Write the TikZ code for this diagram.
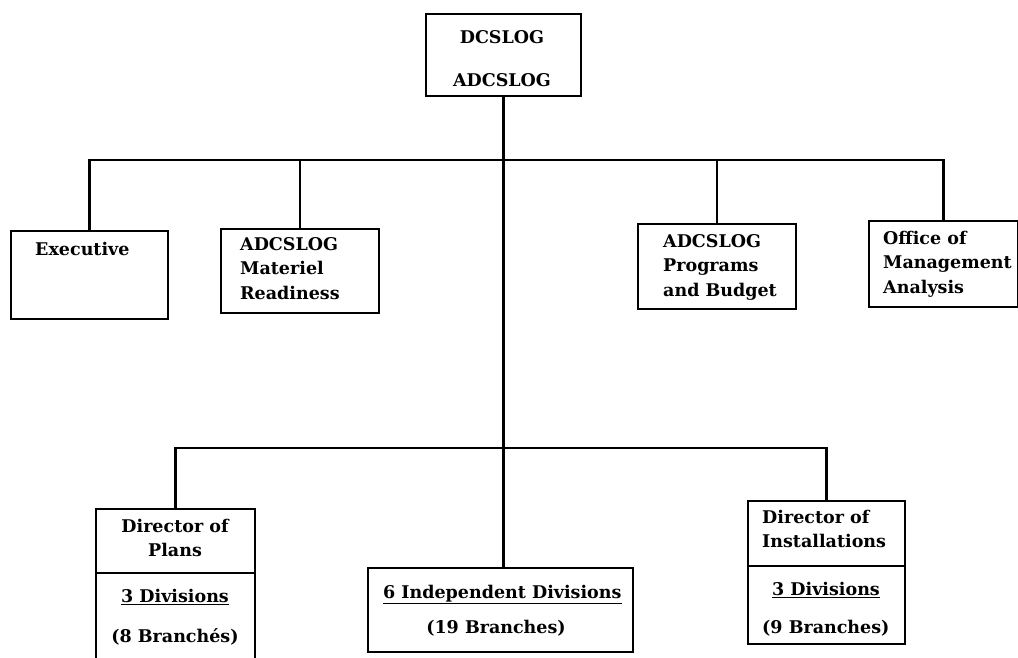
\documentclass[tikz,border=0pt]{standalone}
\usepackage{fontspec}
\setmainfont{DejaVu Serif}
\begin{document}
\begin{tikzpicture}[x=1pt,y=-1pt,
  box/.style={draw, line width=1.8pt, inner sep=0pt, anchor=north west},
  conn/.style={line width=2.6pt},
  txt/.style={inner sep=0pt, font=\fontsize{17.5}{24.5}\selectfont\bfseries},
  ltxt/.style={txt, align=left, anchor=north west},
  ctxt/.style={txt, align=center, anchor=north}]
\useasboundingbox (0,0) rectangle (1018,658);

% --- boxes -------------------------------------------------------------
\node[box, minimum width=155pt, minimum height=82pt] (top) at (425,13) {};
\node[box, minimum width=157pt, minimum height=88pt] (exec) at (10,230) {};
\node[box, minimum width=158pt, minimum height=84pt] (mat) at (220,228) {};
\node[box, minimum width=158pt, minimum height=85pt] (prog) at (637,223) {};
\node[box, minimum width=149pt, minimum height=86pt] (office) at (868,220) {};

\node[box, minimum width=159pt, minimum height=64pt] (plans) at (95,508) {};
\node[box, minimum width=159pt, minimum height=100pt] (plansdiv) at (95,572) {};
\node[box, minimum width=265pt, minimum height=84pt] (mid) at (367,567) {};
\node[box, minimum width=157pt, minimum height=65pt] (inst) at (747,500) {};
\node[box, minimum width=157pt, minimum height=78pt] (instdiv) at (747,565) {};

% --- texts -------------------------------------------------------------
\node[ctxt] (topt1) at (502,30) {DCSLOG};
\node[ctxt] (topt2) at (502,73) {ADCSLOG};
\node[ltxt] (exect) at (35,242) {Executive};
\node[ltxt] (matt) at (240,237) {ADCSLOG\\Materiel\\Readiness};
\node[ltxt] (progt) at (663,234) {ADCSLOG\\Programs\\and Budget};
\node[ltxt] (officet) at (883,231) {Office of\\Management\\Analysis};

\node[ctxt] (planst) at (175,519) {Director of\\Plans};
\node[ctxt] (plansd) at (175,589) {\underline{3 Divisions}};
\node[ctxt] (plansb) at (175,628) {(8 Branchés)};
\node[ltxt] (midd) at (383,585) {\underline{6 Independent Divisions}};
\node[ctxt] (midb) at (496,620) {(19 Branches)};
\node[ltxt] (instt) at (762,510) {Director of\\Installations};
\node[ctxt] (instd) at (826,582) {\underline{3 Divisions}};
\node[ltxt] (instb) at (762,620) {(9 Branches)};

% --- connectors --------------------------------------------------------
\coordinate (bus) at (0,160);
\coordinate (bus2) at (0,448);
\draw[conn] (top.south) -- (top.south |- mid.north);
\draw[conn] (exec.north) |- (office.north |- bus) -- (office.north);
\draw[conn] (mat.north) -- (mat.north |- bus);
\draw[conn] (prog.north) -- (prog.north |- bus);
\draw[conn] (plans.north) |- (inst.north |- bus2) -- (inst.north);
\end{tikzpicture}
\end{document}
